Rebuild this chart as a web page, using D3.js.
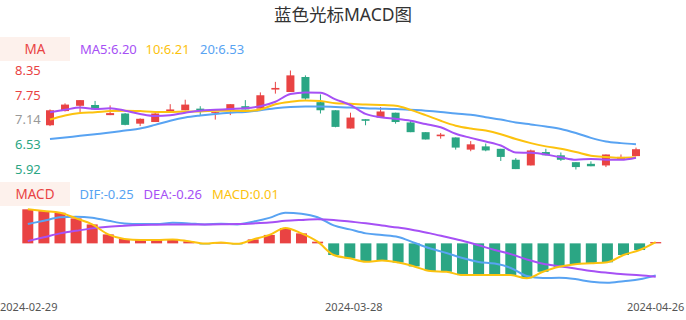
<!DOCTYPE html>
<html>
<head>
<meta charset="utf-8">
<script src="https://cdn.jsdelivr.net/npm/d3@7"></script>
<style>
  body { margin: 0; background: #fff; }
  svg { display: block; font-family: "Noto Sans", "Noto Sans CJK SC", sans-serif; }
</style>
</head>
<body>
<svg width="686" height="320"></svg>
<script>
// trading days shown
var dates = ['2024-02-29','2024-03-01','2024-03-04','2024-03-05','2024-03-06','2024-03-07','2024-03-08',
  '2024-03-11','2024-03-12','2024-03-13','2024-03-14','2024-03-15','2024-03-18','2024-03-19','2024-03-20',
  '2024-03-21','2024-03-22','2024-03-25','2024-03-26','2024-03-27','2024-03-28','2024-03-29','2024-04-01',
  '2024-04-02','2024-04-03','2024-04-08','2024-04-09','2024-04-10','2024-04-11','2024-04-12','2024-04-15',
  '2024-04-16','2024-04-17','2024-04-18','2024-04-19','2024-04-22','2024-04-23','2024-04-24','2024-04-25',
  '2024-04-26'];

var opens  = [7.00,7.35,7.48,7.50,7.25,7.29,7.04,7.08,7.31,7.37,7.41,7.31,7.35,7.47,7.41,7.88,7.82,8.19,7.57,7.37,
              6.92,7.15,7.19,7.31,7.07,6.83,6.73,6.70,6.40,6.48,6.42,6.15,6.01,6.34,6.26,6.09,6.05,6.01,6.16,6.24];
var closes = [7.37,7.51,7.62,7.39,7.30,7.01,7.16,7.29,7.39,7.51,7.37,7.33,7.52,7.39,7.74,7.92,8.23,7.66,7.37,6.96,
              7.19,7.11,7.34,7.08,6.83,6.65,6.77,6.45,6.53,6.38,6.22,5.92,6.38,6.26,6.15,5.97,5.99,6.28,6.22,6.41];
var highs  = [7.39,7.54,7.62,7.60,7.49,7.30,7.17,7.30,7.52,7.63,7.47,7.33,7.52,7.62,7.81,8.07,8.35,8.23,7.76,7.37,
              7.31,7.15,7.45,7.31,7.11,6.83,6.81,6.70,6.61,6.55,6.42,6.19,6.40,6.42,6.33,6.09,6.11,6.28,6.28,6.45];
var lows   = [6.98,7.34,7.31,7.39,7.25,7.00,6.98,7.08,7.31,7.37,7.25,7.14,7.25,7.39,7.41,7.78,7.82,7.63,7.29,6.95,
              6.92,7.00,7.19,7.04,6.83,6.65,6.67,6.40,6.36,6.36,6.12,5.92,6.01,6.26,6.12,5.91,5.99,5.97,6.16,6.24];

var ma5  = [7.32,7.38,7.44,7.40,7.42,7.36,7.28,7.23,7.25,7.31,7.36,7.38,7.40,7.42,7.47,7.58,7.77,7.81,7.80,7.64,
            7.50,7.28,7.20,7.16,7.11,7.03,6.95,6.79,6.69,6.60,6.50,6.33,6.32,6.28,6.21,6.15,6.17,6.15,6.15,6.20];
var ma10 = [7.14,7.24,7.30,7.32,7.35,7.36,7.35,7.33,7.33,7.34,7.34,7.36,7.36,7.35,7.39,7.52,7.58,7.61,7.60,7.54,
            7.53,7.51,7.50,7.48,7.38,7.25,7.11,6.99,6.92,6.87,6.78,6.66,6.56,6.48,6.42,6.34,6.25,6.22,6.20,6.21];
var ma20 = [6.66,6.70,6.74,6.78,6.82,6.87,6.92,7.01,7.11,7.19,7.24,7.28,7.31,7.33,7.37,7.42,7.45,7.46,7.46,7.45,
            7.44,7.42,7.41,7.40,7.38,7.36,7.33,7.29,7.26,7.20,7.14,7.07,7.02,6.97,6.91,6.81,6.69,6.60,6.56,6.53];

var dif  = [0.151,0.177,0.203,0.208,0.200,0.177,0.156,0.151,0.151,0.161,0.156,0.148,0.153,0.148,0.169,0.199,0.240,0.232,0.204,0.140,
            0.109,0.078,0.065,0.050,0.005,-0.040,-0.075,-0.115,-0.145,-0.158,-0.192,-0.255,-0.271,-0.269,-0.279,-0.300,-0.308,-0.295,-0.281,-0.250];
var dea  = [0.018,0.047,0.078,0.098,0.117,0.130,0.138,0.143,0.145,0.147,0.148,0.148,0.149,0.151,0.156,0.163,0.176,0.183,0.188,0.183,
            0.170,0.157,0.139,0.123,0.102,0.078,0.049,0.020,-0.015,-0.052,-0.084,-0.126,-0.159,-0.178,-0.196,-0.215,-0.229,-0.241,-0.249,-0.260];
var macd = [0.266,0.252,0.239,0.195,0.148,0.070,0.034,0.026,0.026,0.031,0.016,-0.002,0.006,-0.004,0.031,0.066,0.120,0.078,0.013,-0.091,
            -0.117,-0.144,-0.134,-0.150,-0.180,-0.216,-0.222,-0.248,-0.248,-0.248,-0.248,-0.273,-0.222,-0.183,-0.163,-0.156,-0.148,-0.091,-0.052,0.010];

var yTicks = ['8.35', '7.75', '7.14', '6.53', '5.92'];
var xTicks = ['2024-02-29', '2024-03-28', '2024-04-26'];

var red = '#e94343', green = '#2ba684', purple = '#a650f5', yellow = '#fcc20e', blue = '#58a3f2';

var svg = d3.select('svg'),
    width = +svg.attr('width'),
    height = +svg.attr('height');

var idx = d3.range(dates.length);

// candle panel
var x = d3.scalePoint().domain(idx).range([50, 636]);
var y = d3.scaleLinear().domain([d3.min(lows), d3.max(highs)]).range([169.5, 70.5]);

// macd panel
var x2 = d3.scalePoint().domain(idx).range([27.8, 655.7]);
var y2 = d3.scaleLinear()
    .domain([d3.min(dif.concat(dea, macd)), d3.max(dif.concat(dea, macd))])
    .range([282.8, 209.3]);

svg.append('text')
    .attr('x', width / 2).attr('y', 21)
    .attr('text-anchor', 'middle')
    .attr('font-size', 17.5).attr('fill', '#333')
    .text('蓝色光标MACD图');

function legend(top, name, items) {
    svg.append('rect').attr('x', 0).attr('y', top).attr('width', 70).attr('height', 24).attr('fill', '#fdf1ec');
    svg.append('text').attr('x', 35).attr('y', top + 16.5).attr('text-anchor', 'middle')
        .attr('font-size', 13.5).attr('fill', red).text(name);
    items.forEach(function(d) {
        svg.append('text').attr('x', d[0]).attr('y', top + 16.5)
            .attr('font-size', 13).attr('fill', d[2]).text(d[1]);
    });
}

legend(37, 'MA', [[80, 'MA5:6.20', purple], [145.5, '10:6.21', yellow], [200, '20:6.53', blue]]);
legend(182, 'MACD', [[79.5, 'DIF:-0.25', blue], [143.5, 'DEA:-0.26', purple], [212, 'MACD:0.01', yellow]]);

// y labels
svg.append('g').selectAll('text')
    .data(yTicks)
    .enter().append('text')
    .attr('x', 15)
    .attr('y', function(d) { return y(+d); })
    .attr('dy', '0.36em')
    .attr('font-size', 13)
    .attr('fill', function(d, i) { return i < 2 ? red : (i == 2 ? '#999' : green); })
    .text(function(d) { return d; });

var candles = svg.append('g').selectAll('g')
    .data(idx)
    .enter().append('g')
    .attr('fill', function(i) { return closes[i] >= opens[i] ? red : green; })
    .attr('stroke', function(i) { return closes[i] >= opens[i] ? red : green; });

candles.append('line')
    .attr('x1', function(i) { return x(i); })
    .attr('x2', function(i) { return x(i); })
    .attr('y1', function(i) { return y(highs[i]); })
    .attr('y2', function(i) { return y(lows[i]); })
    .attr('stroke-width', 1);

candles.append('rect')
    .attr('x', function(i) { return x(i) - 4; })
    .attr('width', 8)
    .attr('y', function(i) { return y(Math.max(opens[i], closes[i])); })
    .attr('height', function(i) { return Math.max(1, Math.abs(y(opens[i]) - y(closes[i]))); })
    .attr('stroke', 'none');

function drawLine(xs, ys, data, color) {
    var line = d3.line()
        .x(function(d, i) { return xs(i); })
        .y(function(d) { return ys(d); })
        .curve(d3.curveMonotoneX);
    svg.append('path')
        .datum(data)
        .attr('d', line)
        .attr('fill', 'none')
        .attr('stroke', color)
        .attr('stroke-width', 2);
}

drawLine(x, y, ma20, blue);
drawLine(x, y, ma10, yellow);
drawLine(x, y, ma5, purple);

// macd bars
svg.append('g').selectAll('rect')
    .data(macd)
    .enter().append('rect')
    .attr('x', function(d, i) { return x2(i) - 5.5; })
    .attr('width', 11)
    .attr('y', function(d) { return Math.min(y2(0), y2(d)); })
    .attr('height', function(d) { return Math.max(1, Math.abs(y2(d) - y2(0))); })
    .attr('fill', function(d) { return d >= 0 ? red : green; });

drawLine(x2, y2, dif, blue);
drawLine(x2, y2, dea, purple);
drawLine(x2, y2, macd, yellow);

// x labels, kept inside the picture at both ends
svg.append('g').selectAll('text')
    .data(xTicks)
    .enter().append('text')
    .attr('y', 311)
    .attr('font-size', 11)
    .attr('fill', '#555')
    .text(function(d) { return d; })
    .attr('x', function(d, i) {
        var w = this.getComputedTextLength();
        var cx = x2(dates.indexOf(d));
        if (i > 0 && i < xTicks.length - 1) cx += 4;
        return Math.max(0, Math.min(width - w, cx - w / 2));
    });
</script>
</body>
</html>
